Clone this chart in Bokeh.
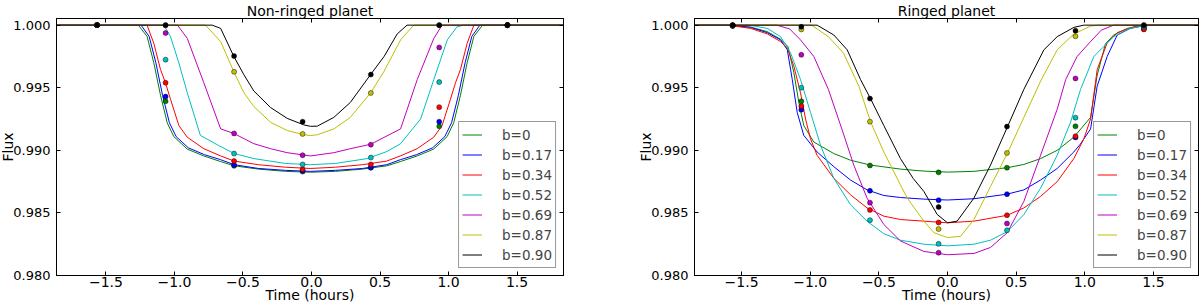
from bokeh.plotting import figure
from bokeh.models import (Range1d, LinearAxis, FixedTicker, PrintfTickFormatter,
                          CustomJSTickFormatter, Legend, LegendItem)
from bokeh.layouts import row
from bokeh.embed import file_html
from bokeh.resources import INLINE

FONT = "DejaVu Sans"

SERIES_LABELS = ["b=0", "b=0.17", "b=0.34", "b=0.52", "b=0.69", "b=0.87", "b=0.90"]
SERIES_COLORS = ["#008000", "#0000ff", "#ff0000", "#00bfbf", "#bf00bf", "#bfbf00", "#000000"]
X_TICKS = [-1.5, -1.0, -0.5, 0.0, 0.5, 1.0, 1.5]
Y_TICKS = [0.980, 0.985, 0.990, 0.995, 1.000]
DOT_TIMES = [-1.565, -1.065, -0.565, -0.065, 0.433, 0.932, 1.43]

# ---------------- Non-ringed planet: model curves ----------------
NR_T_B000 = [-1.86, -1.264, -1.200, -1.151, -1.102, -1.053, -1.005, -0.907, -0.786, -0.663, -0.564, -0.387, -0.190, -0.008,
             0.175, 0.372, 0.549, 0.648, 0.771, 0.892, 0.990, 1.038, 1.087, 1.136, 1.185, 1.249, 1.84]
NR_F_B000 = [1.0, 1.0, 0.9991, 0.9970, 0.9944, 0.9922, 0.9911, 0.9901, 0.98955, 0.9891, 0.98876, 0.9885, 0.98832, 0.98825,
             0.98832, 0.9885, 0.98876, 0.9891, 0.98955, 0.9901, 0.9911, 0.9922, 0.9944, 0.9970, 0.9991, 1.0, 1.0]
NR_T_B017 = [-1.86, -1.244, -1.185, -1.136, -1.087, -1.037, -0.988, -0.899, -0.781, -0.663, -0.564, -0.387, -0.190, -0.008,
             0.175, 0.372, 0.549, 0.648, 0.766, 0.884, 0.973, 1.022, 1.072, 1.121, 1.170, 1.229, 1.84]
NR_F_B017 = [1.0, 1.0, 0.9991, 0.9970, 0.9944, 0.9922, 0.9911, 0.9902, 0.98965, 0.98925, 0.98885, 0.98855, 0.9884, 0.98832,
             0.9884, 0.98855, 0.98885, 0.98925, 0.98965, 0.9902, 0.9911, 0.9922, 0.9944, 0.9970, 0.9991, 1.0, 1.0]
NR_T_B034 = [-1.86, -1.200, -1.151, -1.102, -1.066, -1.029, -0.968, -0.907, -0.786, -0.663, -0.564, -0.387, -0.190, -0.008,
             0.175, 0.372, 0.549, 0.648, 0.771, 0.892, 0.953, 1.014, 1.051, 1.087, 1.136, 1.185, 1.84]
NR_F_B034 = [1.0, 1.0, 0.99855, 0.99645, 0.9954, 0.99408, 0.99198, 0.99105, 0.99013, 0.98955, 0.98914, 0.98885, 0.98865, 0.98855,
             0.98865, 0.98885, 0.98914, 0.98955, 0.99013, 0.99105, 0.99198, 0.99408, 0.9954, 0.99645, 0.99855, 1.0, 1.0]
NR_T_B052 = [-1.86, -1.078, -1.029, -0.968, -0.907, -0.811, -0.680, -0.564, -0.421, -0.190, -0.008,
             0.175, 0.406, 0.550, 0.650, 0.796, 0.893, 0.991, 1.062, 1.111, 1.84]
NR_F_B052 = [1.0, 1.0, 0.99908, 0.99698, 0.99461, 0.99119, 0.9904, 0.98974, 0.98934, 0.98895, 0.98885,
             0.98895, 0.98934, 0.9899, 0.99053, 0.9925, 0.99566, 0.99882, 0.99987, 1.0, 1.0]
NR_T_B069 = [-1.86, -0.978, -0.907, -0.786, -0.663, -0.567, -0.421, -0.299, -0.177, -0.008,
             0.163, 0.283, 0.431, 0.650, 0.772, 0.893, 0.953, 1.84]
NR_F_B069 = [1.0, 1.0, 0.99895, 0.9954, 0.99171, 0.99135, 0.99053, 0.99013, 0.98981, 0.98955,
             0.98981, 0.99013, 0.99048, 0.99171, 0.99566, 0.99895, 1.0, 1.0]
NR_T_B087 = [-1.86, -0.774, -0.663, -0.567, -0.494, -0.421, -0.299, -0.177, -0.056, -0.008,
             0.042, 0.163, 0.283, 0.431, 0.530, 0.650, 0.746, 1.84]
NR_F_B087 = [1.0, 1.0, 0.99869, 0.99627, 0.99461, 0.9935, 0.99224, 0.99158, 0.99124, 0.99118,
             0.99124, 0.99171, 0.99263, 0.99458, 0.99632, 0.99882, 1.0, 1.0]
NR_T_B090 = [-1.86, -0.725, -0.663, -0.567, -0.494, -0.421, -0.299, -0.177, -0.056, -0.008,
             0.042, 0.163, 0.283, 0.431, 0.530, 0.625, 0.697, 1.84]
NR_F_B090 = [1.0, 1.0, 0.99974, 0.9975, 0.99605, 0.99474, 0.99342, 0.99255, 0.99203, 0.99192,
             0.99193, 0.99263, 0.99382, 0.99605, 0.9975, 0.99929, 1.0, 1.0]

# ---------------- Non-ringed planet: simulated points ----------------
NR_D_B000 = [1.0, 0.99392, 0.98876, 0.9883, 0.9886, 0.99192, 1.0]
NR_D_B017 = [1.0, 0.99429, 0.98882, 0.98836, 0.98863, 0.99229, 1.0]
NR_D_B034 = [1.0, 0.9954, 0.98914, 0.98848, 0.98887, 0.99345, 1.0]
NR_D_B052 = [1.0, 0.99724, 0.98974, 0.98887, 0.98942, 0.99545, 1.0]
NR_D_B069 = [1.0, 0.99937, 0.99135, 0.98961, 0.99045, 0.99822, 1.0]
NR_D_B087 = [1.0, 1.0, 0.99627, 0.99131, 0.99458, 1.0, 1.0]
NR_D_B090 = [1.0, 1.0, 0.99753, 0.99229, 0.99605, 1.0, 1.0]

# ---------------- Ringed planet: model curves ----------------
RG_T_B000 = [-1.85, -1.60, -1.435, -1.313, -1.216, -1.162, -1.119, -1.083, -1.047, -0.974, -0.828, -0.707, -0.561, -0.343,
             -0.172, 0.0, 0.192, 0.435, 0.556, 0.678, 0.799, 0.92, 1.042, 1.09, 1.15, 1.21, 1.31, 1.43, 1.84]
RG_F_B000 = [1.0, 1.0, 0.99985, 0.99948, 0.99887, 0.99829, 0.99619, 0.99382, 0.99198, 0.99066, 0.98974, 0.98921, 0.98882, 0.9885,
             0.98834, 0.98826, 0.98832, 0.98861, 0.98887, 0.98934, 0.99, 0.99105, 0.99263, 0.9960, 0.9985, 0.99921, 0.99974, 1.0, 1.0]
RG_T_B017 = [-1.85, -1.60, -1.435, -1.313, -1.216, -1.167, -1.131, -1.095, -1.047, -0.95, -0.828, -0.707, -0.586, -0.464, -0.343,
             -0.172, 0.0, 0.192, 0.435, 0.556, 0.678, 0.799, 0.92, 0.968, 1.042, 1.09, 1.163, 1.236, 1.33, 1.454, 1.84]
RG_F_B017 = [1.0, 1.0, 0.99982, 0.9994, 0.99882, 0.99803, 0.99566, 0.99303, 0.99119, 0.98987, 0.98869, 0.98763, 0.98684, 0.98639, 0.98623,
             0.9861, 0.98603, 0.98613, 0.9865, 0.98684, 0.98763, 0.98855, 0.98987, 0.9905, 0.99171, 0.99513, 0.9975, 0.99921, 0.99974, 1.0, 1.0]
RG_T_B034 = [-1.85, -1.60, -1.435, -1.313, -1.216, -1.167, -1.119, -1.071, -1.034, -0.998, -0.95, -0.828, -0.707, -0.586, -0.464, -0.343,
             -0.172, 0.0, 0.192, 0.435, 0.556, 0.678, 0.799, 0.92, 0.993, 1.042, 1.09, 1.163, 1.236, 1.357, 1.454, 1.84]
RG_F_B034 = [1.0, 1.0, 0.99974, 0.9993, 0.99869, 0.99816, 0.99671, 0.9946, 0.9925, 0.99092, 0.9896, 0.98776, 0.98645, 0.9854, 0.98474, 0.98447,
             0.98434, 0.98421, 0.98434, 0.98481, 0.9854, 0.98632, 0.9875, 0.98934, 0.99092, 0.9925, 0.99645, 0.99858, 0.9994, 0.99987, 1.0, 1.0]
RG_T_B052 = [-1.85, -1.50, -1.435, -1.313, -1.216, -1.143, -1.071, -0.998, -0.925, -0.828, -0.707, -0.586, -0.464, -0.343,
             -0.172, 0.0, 0.192, 0.313, 0.435, 0.556, 0.678, 0.799, 0.896, 0.969, 1.066, 1.21, 1.33, 1.43, 1.54, 1.84]
RG_F_B052 = [1.0, 1.0, 0.99998, 0.99974, 0.99908, 0.99777, 0.99566, 0.99303, 0.9904, 0.98776, 0.98566, 0.98434, 0.98334, 0.98282,
             0.9825, 0.98237, 0.9825, 0.98282, 0.9835, 0.98487, 0.98698, 0.98961, 0.99224, 0.99487, 0.9975, 0.99908, 0.99974, 0.99995, 1.0, 1.0]
RG_T_B069 = [-1.85, -1.246, -1.15, -1.071, -0.974, -0.868, -0.77, -0.683, -0.586, -0.464, -0.343, -0.172, 0.0,
             0.192, 0.313, 0.435, 0.556, 0.678, 0.799, 0.861, 0.944, 1.042, 1.12, 1.21, 1.84]
RG_F_B069 = [1.0, 1.0, 0.9997, 0.99882, 0.9975, 0.99487, 0.99171, 0.98882, 0.98618, 0.98408, 0.98276, 0.98192, 0.98166,
             0.98176, 0.98224, 0.98342, 0.98592, 0.98961, 0.99329, 0.99566, 0.9975, 0.99869, 0.9996, 1.0, 1.0]
RG_T_B087 = [-1.85, -0.99, -0.868, -0.758, -0.646, -0.561, -0.464, -0.343, -0.293, -0.172, -0.099, 0.0,
             0.095, 0.192, 0.313, 0.435, 0.556, 0.678, 0.799, 0.92, 1.042, 1.10, 1.84]
RG_F_B087 = [1.0, 1.0, 0.99908, 0.99777, 0.99513, 0.99229, 0.98987, 0.98724, 0.98618, 0.98434, 0.98342, 0.98303,
             0.98313, 0.98447, 0.98711, 0.98974, 0.99263, 0.99553, 0.99803, 0.99929, 0.99992, 1.0, 1.0]
RG_T_B090 = [-1.85, -0.95, -0.828, -0.731, -0.634, -0.561, -0.464, -0.343, -0.25, -0.172, -0.075, 0.0,
             0.07, 0.192, 0.313, 0.435, 0.556, 0.702, 0.799, 0.92, 0.993, 1.84]
RG_F_B090 = [1.0, 1.0, 0.99921, 0.99803, 0.99566, 0.99413, 0.99198, 0.98934, 0.98775, 0.98671, 0.98487, 0.98421,
             0.98434, 0.98618, 0.98882, 0.99184, 0.99487, 0.99803, 0.99908, 0.99982, 1.0, 1.0]

# ---------------- Ringed planet: simulated points ----------------
RG_D_B000 = [0.99995, 0.99392, 0.98879, 0.98824, 0.98861, 0.99192, 0.9998]
RG_D_B017 = [0.99995, 0.99324, 0.98677, 0.98602, 0.9865, 0.99103, 0.9997]
RG_D_B034 = [0.99995, 0.99353, 0.98524, 0.98424, 0.98482, 0.99113, 0.99966]
RG_D_B052 = [0.99995, 0.995, 0.98442, 0.98253, 0.98361, 0.99261, 0.99985]
RG_D_B069 = [1.0, 0.99763, 0.98582, 0.98182, 0.98416, 0.99574, 0.99995]
RG_D_B087 = [1.0, 0.99966, 0.99229, 0.98371, 0.98979, 0.99911, 1.0]
RG_D_B090 = [1.0, 0.99987, 0.99413, 0.98547, 0.9919, 0.99956, 1.0]

NR_CURVES = [(NR_T_B000, NR_F_B000), (NR_T_B017, NR_F_B017), (NR_T_B034, NR_F_B034), (NR_T_B052, NR_F_B052),
             (NR_T_B069, NR_F_B069), (NR_T_B087, NR_F_B087), (NR_T_B090, NR_F_B090)]
NR_DOTS = [NR_D_B000, NR_D_B017, NR_D_B034, NR_D_B052, NR_D_B069, NR_D_B087, NR_D_B090]
RG_CURVES = [(RG_T_B000, RG_F_B000), (RG_T_B017, RG_F_B017), (RG_T_B034, RG_F_B034), (RG_T_B052, RG_F_B052),
             (RG_T_B069, RG_F_B069), (RG_T_B087, RG_F_B087), (RG_T_B090, RG_F_B090)]
RG_DOTS = [RG_D_B000, RG_D_B017, RG_D_B034, RG_D_B052, RG_D_B069, RG_D_B087, RG_D_B090]


def style_axis(ax, show_labels, label_size="14px"):
    ax.axis_line_color = "black"
    ax.major_tick_line_color = "black"
    ax.major_tick_in = 4
    ax.major_tick_out = 0
    ax.minor_tick_line_color = None
    ax.major_label_text_font = FONT
    ax.major_label_text_color = "black"
    ax.axis_label_text_font = FONT
    ax.axis_label_text_font_style = "normal"
    ax.axis_label_text_font_size = "14px"
    ax.axis_label_text_color = "black"
    if show_labels:
        ax.major_label_text_font_size = label_size
    else:
        ax.major_label_text_font_size = "0px"
        ax.major_label_text_color = None
        ax.major_label_standoff = 0


def make_panel(title, curves, dots, x0, x1, width, bl, br):
    p = figure(width=width, height=305, output_backend="svg", toolbar_location=None,
               x_range=Range1d(x0, x1), y_range=Range1d(0.980, 1.00053),
               min_border_left=bl, min_border_right=br, min_border_top=15, min_border_bottom=30,
               background_fill_color="white", border_fill_color="white")
    p.outline_line_color = "black"
    p.outline_line_width = 1
    p.xgrid.visible = False
    p.ygrid.visible = False

    p.title.text = title
    p.title.align = "center"
    p.title.text_font = FONT
    p.title.text_font_size = "14px"
    p.title.text_font_style = "normal"
    p.title.text_color = "black"
    p.title.standoff = 0
    p.title.offset = 0

    xax = p.xaxis[0]
    xax.ticker = FixedTicker(ticks=X_TICKS)
    xax.formatter = CustomJSTickFormatter(
        code="return (tick < 0 ? '\\u2212' : '') + Math.abs(tick).toFixed(1);")
    xax.axis_label = "Time (hours)"
    style_axis(xax, True, "14px")
    xax.major_label_standoff = 1
    xax.axis_label_standoff = -3

    yax = p.yaxis[0]
    yax.ticker = FixedTicker(ticks=Y_TICKS)
    yax.formatter = PrintfTickFormatter(format="%.3f")
    yax.axis_label = "Flux"
    style_axis(yax, True, "13px")
    yax.major_label_standoff = 6
    yax.axis_label_standoff = -6

    top = LinearAxis(ticker=FixedTicker(ticks=X_TICKS))
    style_axis(top, False)
    p.add_layout(top, "above")
    right = LinearAxis(ticker=FixedTicker(ticks=Y_TICKS))
    style_axis(right, False)
    p.add_layout(right, "right")

    items = []
    for (t, f), lab, col in zip(curves, SERIES_LABELS, SERIES_COLORS):
        r = p.line(t, f, line_color=col, line_width=1)
        items.append(LegendItem(label=lab, renderers=[r]))
    for d, col in zip(dots, SERIES_COLORS):
        p.scatter(DOT_TIMES, d, size=5, fill_color=col, line_color="black",
                  line_alpha=0.55, line_width=0.8)

    legend = Legend(items=items, location="bottom_right", margin=7, padding=3, spacing=1,
                    label_height=19, glyph_height=19, glyph_width=20, label_standoff=20,
                    label_text_font=FONT, label_text_font_size="13.5px",
                    border_line_color="#333333", border_line_width=1,
                    background_fill_color="white", background_fill_alpha=1.0)
    p.add_layout(legend)
    return p


p1 = make_panel("Non-ringed planet", NR_CURVES, NR_DOTS, -1.861, 1.839, 634, 60, 67)
p1.styles = {"margin-left": "-4px"}
p2 = make_panel("Ringed planet", RG_CURVES, RG_DOTS, -1.843, 1.828, 570, 64, 2)

layout = row(p1, p2)

open("out.html", "w").write(file_html(layout, INLINE))
